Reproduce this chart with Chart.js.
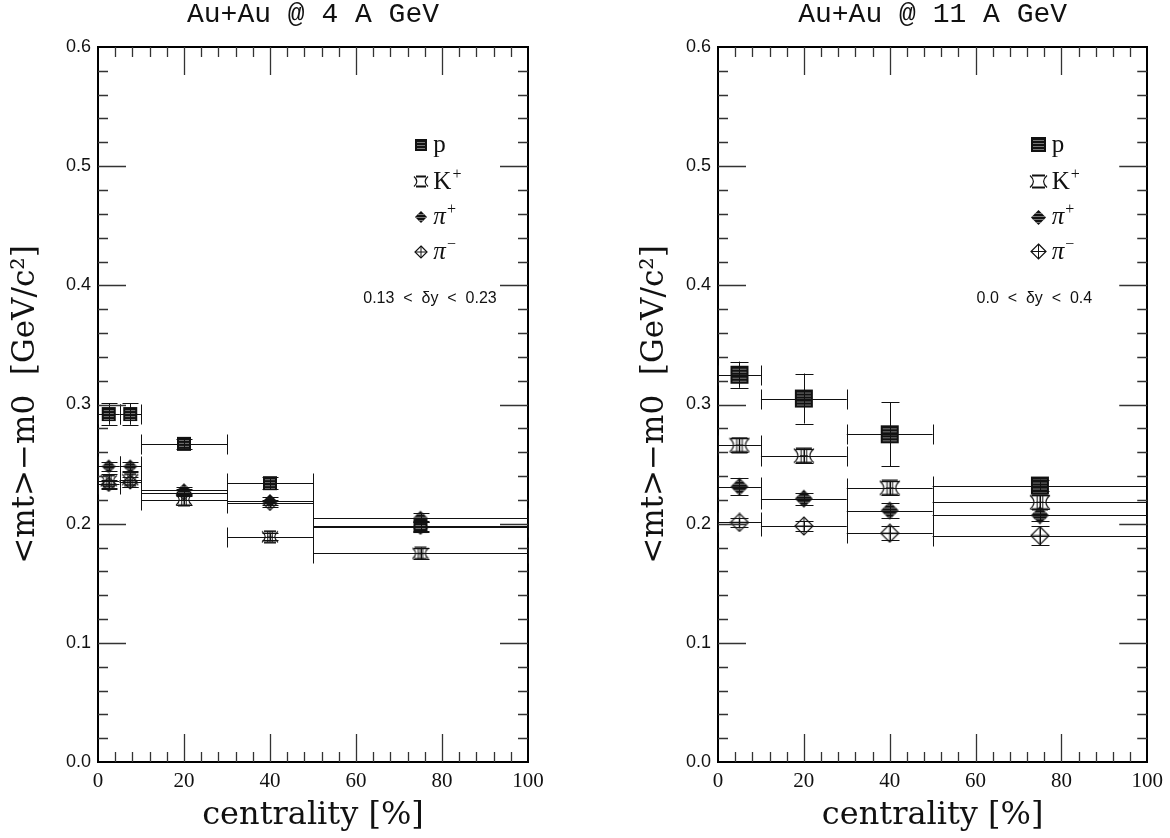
<!DOCTYPE html>
<html>
<head>
<meta charset="UTF-8" />
<title>mean mt - m0 vs centrality, Au+Au 4 and 11 A GeV</title>
<script src="https://cdn.jsdelivr.net/npm/chart.js"></script>
<style>
body { margin: 0; background: #fff; }
#wrap { position: relative; width: 1170px; height: 838px; }
.panel { position: absolute; top: 0; width: 585px; height: 838px; }
</style>
</head>
<body>
<div id="wrap">
	<div class="panel" style="left:0"><canvas id="au4" width="585" height="838"></canvas></div>
	<div class="panel" style="left:585px"><canvas id="au11" width="585" height="838"></canvas></div>
</div>
<script>
// ---- data ----
// Au+Au @ 4 A GeV, centrality bins
var cent4 = [2.5, 7.5, 20, 40, 75];
var lo4 = [0, 5, 10, 30, 50];
var hi4 = [5, 10, 30, 50, 100];
var p4 = [0.292, 0.292, 0.267, 0.234, 0.198];
var p4err = [0.009, 0.009, 0.004, 0.005, 0.004];
var kp4 = [0.236, 0.237, 0.220, 0.189, 0.175];
var kp4err = [0.006, 0.006, 0.004, 0.003, 0.005];
var pip4 = [0.248, 0.248, 0.228, 0.219, 0.205];
var pip4err = [0.004, 0.004, 0.003, 0.003, 0.004];
var pim4 = [0.233, 0.235, 0.226, 0.217, 0.197];
var pim4err = [0.004, 0.004, 0.003, 0.003, 0.004];

// Au+Au @ 11 A GeV
var cent11 = [5, 20, 40, 75];
var lo11 = [0, 10, 30, 50];
var hi11 = [10, 30, 50, 100];
var p11 = [0.325, 0.305, 0.275, 0.232];
var p11err = [0.011, 0.021, 0.027, 0.005];
var kp11 = [0.266, 0.257, 0.230, 0.218];
var kp11err = [0.006, 0.006, 0.006, 0.006];
var pip11 = [0.231, 0.221, 0.211, 0.207];
var pip11err = [0.007, 0.005, 0.006, 0.005];
var pim11 = [0.201, 0.198, 0.192, 0.190];
var pim11err = [0.004, 0.004, 0.006, 0.008];

var legendLabels = [["p", ""], ["K", "+"], ["\u03c0", "+"], ["\u03c0", "\u2212"]];
var legendY = [0.518, 0.487, 0.457, 0.428];

// ---- marker images ----
function squareMarker(s) {
	var c = document.createElement('canvas');
	c.width = c.height = s + 2;
	var g = c.getContext('2d');
	g.fillStyle = '#111';
	g.fillRect(1, 1, s, s);
	g.strokeStyle = '#777';
	g.lineWidth = 1;
	for (var k = 3; k < s - 1; k += 3) {
		g.beginPath(); g.moveTo(3, 1 + k + 0.5); g.lineTo(s - 1, 1 + k + 0.5); g.stroke();
	}
	return c;
}

function diamondMarker(s, filled) {
	var c = document.createElement('canvas');
	c.width = c.height = s + 2;
	var g = c.getContext('2d');
	var m = (s + 2) / 2, h = s / 2;
	g.beginPath();
	g.moveTo(m, m - h); g.lineTo(m + h, m); g.lineTo(m, m + h); g.lineTo(m - h, m); g.closePath();
	if (filled) {
		g.fillStyle = '#111'; g.fill();
		g.save(); g.clip();
		g.strokeStyle = '#777'; g.lineWidth = 1;
		for (var k = 3; k < s; k += 3) {
			g.beginPath(); g.moveTo(0, 1 + k + 0.5); g.lineTo(s + 2, 1 + k + 0.5); g.stroke();
		}
		g.restore();
	} else {
		g.fillStyle = '#fff'; g.fill();
		g.strokeStyle = '#111'; g.lineWidth = 1.2; g.stroke();
		g.lineWidth = 1;
		g.beginPath();
		g.moveTo(m, m - h); g.lineTo(m, m + h);
		g.moveTo(m - h, m); g.lineTo(m + h, m);
		g.stroke();
	}
	return c;
}

function kaonMarker(w, grid) {
	var hgt = Math.round(w * 0.75);
	var c = document.createElement('canvas');
	c.width = w + 2; c.height = hgt + 2;
	var g = c.getContext('2d');
	var l = 1, r = w + 1, t = 1.5, b = hgt + 0.5, m = (w + 2) / 2, my = (hgt + 2) / 2;
	g.strokeStyle = '#111';
	g.lineWidth = 1.2;
	g.beginPath();
	g.moveTo(r, t); g.quadraticCurveTo(r - w * 0.4, my, r, b);
	g.moveTo(l, t); g.quadraticCurveTo(l + w * 0.4, my, l, b);
	g.stroke();
	g.lineWidth = 2;
	g.beginPath();
	g.moveTo(l + 2, t); g.lineTo(r - 2, t);
	g.moveTo(l + 2, b); g.lineTo(r - 2, b);
	g.stroke();
	if (grid) {
		g.lineWidth = 1;
		g.beginPath();
		g.moveTo(m - w * 0.14, t); g.lineTo(m - w * 0.14, b);
		g.moveTo(m, t); g.lineTo(m, b);
		g.moveTo(m + w * 0.14, t); g.lineTo(m + w * 0.14, b);
		g.moveTo(m - w * 0.2, my); g.lineTo(m + w * 0.2, my);
		g.stroke();
	}
	return c;
}

// ---- plugins ----
// error bars: horizontal = centrality bin, vertical = y error
var errorBars = {
	id: 'errorBars',
	afterDatasetsDraw: function(chart) {
		var ctx = chart.ctx, sx = chart.scales.x, sy = chart.scales.y;
		var capH = 10, capW = chart.options.plugins.errorBars.capW;
		ctx.save();
		ctx.strokeStyle = '#111';
		ctx.lineWidth = 1;
		chart.data.datasets.forEach(function(ds) {
			ds.data.forEach(function(pt) {
				var x0 = sx.getPixelForValue(pt.xMin), x1 = sx.getPixelForValue(pt.xMax);
				var xc = Math.round(sx.getPixelForValue(pt.x)) + 0.5;
				var yc = Math.round(sy.getPixelForValue(pt.y)) + 0.5;
				var yt = sy.getPixelForValue(pt.y + pt.yErr), yb = sy.getPixelForValue(pt.y - pt.yErr);
				ctx.beginPath();
				ctx.moveTo(x0, yc); ctx.lineTo(x1, yc);
				ctx.moveTo(Math.round(x0) + 0.5, yc - capH); ctx.lineTo(Math.round(x0) + 0.5, yc + capH);
				ctx.moveTo(Math.round(x1) + 0.5, yc - capH); ctx.lineTo(Math.round(x1) + 0.5, yc + capH);
				ctx.moveTo(xc, yt); ctx.lineTo(xc, yb);
				ctx.moveTo(xc - capW, Math.round(yt) + 0.5); ctx.lineTo(xc + capW, Math.round(yt) + 0.5);
				ctx.moveTo(xc - capW, Math.round(yb) + 0.5); ctx.lineTo(xc + capW, Math.round(yb) + 0.5);
				ctx.stroke();
			});
		});
		ctx.restore();
	}
};

// inward ticks on all four sides of the frame
var frameTicks = {
	id: 'frameTicks',
	afterDraw: function(chart) {
		var ctx = chart.ctx, a = chart.chartArea, sx = chart.scales.x, sy = chart.scales.y;
		var i, v, p, len;
		ctx.save();
		ctx.strokeStyle = '#333';
		ctx.lineWidth = 1.3;
		ctx.beginPath();
		for (i = 1; i < 25; i++) {
			v = i * 4;
			p = Math.round(sx.getPixelForValue(v)) + 0.5;
			len = (i % 5 === 0) ? 28 : 10;
			ctx.moveTo(p, a.bottom); ctx.lineTo(p, a.bottom - len);
			ctx.moveTo(p, a.top); ctx.lineTo(p, a.top + len);
		}
		for (i = 1; i < 30; i++) {
			v = i * 0.02;
			p = Math.round(sy.getPixelForValue(v)) + 0.5;
			len = (i % 5 === 0) ? 28 : 10;
			ctx.moveTo(a.left, p); ctx.lineTo(a.left + len, p);
			ctx.moveTo(a.right, p); ctx.lineTo(a.right - len, p);
		}
		ctx.stroke();
		ctx.restore();
	}
};

// legend + rapidity note drawn inside the frame
var innerLegend = {
	id: 'innerLegend',
	afterDraw: function(chart) {
		var o = chart.options.plugins.innerLegend;
		var ctx = chart.ctx, sx = chart.scales.x, sy = chart.scales.y;
		var mx = sx.getPixelForValue(o.x);
		ctx.save();
		legendLabels.forEach(function(lab, i) {
			var my = sy.getPixelForValue(legendY[i]);
			var img = o.markers[i];
			ctx.drawImage(img, Math.round(mx - img.width / 2), Math.round(my - img.height / 2));
			var tx = mx + o.gap;
			ctx.fillStyle = '#111';
			ctx.textBaseline = 'alphabetic';
			ctx.textAlign = 'left';
			ctx.font = (lab[0] === 'K' || lab[0] === 'p' ? '' : 'italic ') + '25px "Liberation Serif"';
			ctx.fillText(lab[0], tx, my + 7);
			if (lab[1]) {
				var w = ctx.measureText(lab[0]).width;
				ctx.font = '16px "Liberation Serif"';
				ctx.fillText(lab[1], tx + w + 1, my - 3);
			}
		});
		ctx.font = '16px "Liberation Sans"';
		ctx.textAlign = 'center';
		ctx.textBaseline = 'middle';
		ctx.fillStyle = '#111';
		ctx.fillText(o.note, sx.getPixelForValue(o.noteX), sy.getPixelForValue(o.noteY));
		ctx.restore();
	}
};

function points(xs, lo, hi, ys, errs) {
	return xs.map(function(x, i) {
		return { x: x, y: ys[i], xMin: lo[i], xMax: hi[i], yErr: errs[i] };
	});
}

function makePanel(canvasid, cfg) {
	var sq = squareMarker(cfg.size), kp = kaonMarker(cfg.size + 2, true);
	var dp = diamondMarker(cfg.size, true), dm = diamondMarker(cfg.size, false);
	var lsq = squareMarker(cfg.legSize), lkp = kaonMarker(cfg.legSize + 2, false);
	var ldp = diamondMarker(cfg.legSize, true), ldm = diamondMarker(cfg.legSize, false);
	new Chart(document.getElementById(canvasid), {
		type: 'scatter',
		data: {
			datasets: [
				{ label: 'p', data: points(cfg.cent, cfg.lo, cfg.hi, cfg.p, cfg.pErr), pointStyle: sq, pointRadius: 8 },
				{ label: 'K+', data: points(cfg.cent, cfg.lo, cfg.hi, cfg.kp, cfg.kpErr), pointStyle: kp, pointRadius: 8 },
				{ label: 'pi+', data: points(cfg.cent, cfg.lo, cfg.hi, cfg.pip, cfg.pipErr), pointStyle: dp, pointRadius: 8 },
				{ label: 'pi-', data: points(cfg.cent, cfg.lo, cfg.hi, cfg.pim, cfg.pimErr), pointStyle: dm, pointRadius: 8 }
			]
		},
		options: {
			responsive: false,
			animation: false,
			events: [],
			layout: { padding: 0 },
			plugins: {
				legend: { display: false },
				tooltip: { enabled: false },
				errorBars: { capW: cfg.capW },
				innerLegend: {
					x: cfg.legX, gap: cfg.legGap, markers: [lsq, lkp, ldp, ldm],
					note: cfg.note, noteX: cfg.noteX, noteY: 0.389
				}
			},
			scales: {
				x: {
					type: 'linear', position: 'bottom', min: 0, max: 100,
					afterFit: function(s) { s.height = 76; },
					grid: { display: false, drawTicks: false },
					border: { display: true, color: '#000', width: 2 },
					ticks: { stepSize: 20, padding: 7, color: '#111', font: { family: 'Liberation Serif', size: 21 } },
					title: { display: true, text: 'centrality [%]', color: '#111',
						font: { family: 'DejaVu Serif', size: 32, lineHeight: 1 }, padding: { bottom: 6 } }
				},
				x2: {
					type: 'linear', position: 'top', min: 0, max: 100,
					afterFit: function(s) { s.height = 47; },
					grid: { display: false, drawTicks: false },
					border: { display: true, color: '#000', width: 2 },
					ticks: { display: false },
					title: { display: true, text: cfg.title, color: '#111',
						font: { family: 'Liberation Mono', size: 28, lineHeight: 1 }, padding: { top: 1 } }
				},
				y: {
					type: 'linear', position: 'left', min: 0, max: 0.6,
					afterFit: function(s) { s.width = cfg.leftW; },
					grid: { display: false, drawTicks: false },
					border: { display: true, color: '#000', width: 2 },
					ticks: { stepSize: 0.1, padding: 7, color: '#111', font: { family: 'Liberation Sans', size: 18 },
						callback: function(v) { return Number(v).toFixed(1); } },
					title: { display: true, text: '<mt>\u2212m0  [GeV/c\u00b2]', color: '#111',
						font: { family: 'DejaVu Serif', size: 31, lineHeight: 1 }, padding: { top: cfg.yTitlePad } }
				},
				y2: {
					type: 'linear', position: 'right', min: 0, max: 0.6,
					afterFit: function(s) { s.width = cfg.rightW; },
					grid: { display: false, drawTicks: false },
					border: { display: true, color: '#000', width: 2 },
					ticks: { display: false }
				}
			}
		},
		plugins: [errorBars, frameTicks, innerLegend]
	});
}

makePanel("au4", {
	title: 'Au+Au @ 4 A GeV', cent: cent4, lo: lo4, hi: hi4,
	p: p4, pErr: p4err, kp: kp4, kpErr: kp4err, pip: pip4, pipErr: pip4err, pim: pim4, pimErr: pim4err,
	size: 14, legSize: 12, capW: 8, legX: 75.2, legGap: 12,
	note: '0.13  <  \u03b4y  <  0.23', noteX: 77.2,
	leftW: 98, rightW: 57, yTitlePad: 10
});

makePanel("au11", {
	title: 'Au+Au @ 11 A GeV', cent: cent11, lo: lo11, hi: hi11,
	p: p11, pErr: p11err, kp: kp11, kpErr: kp11err, pip: pip11, pipErr: pip11err, pim: pim11, pimErr: pim11err,
	size: 18, legSize: 15, capW: 9, legX: 74.7, legGap: 13,
	note: '0.0  <  \u03b4y  <  0.4', noteX: 73.7,
	leftW: 133, rightW: 22, yTitlePad: 54
});
</script>
</body>
</html>
